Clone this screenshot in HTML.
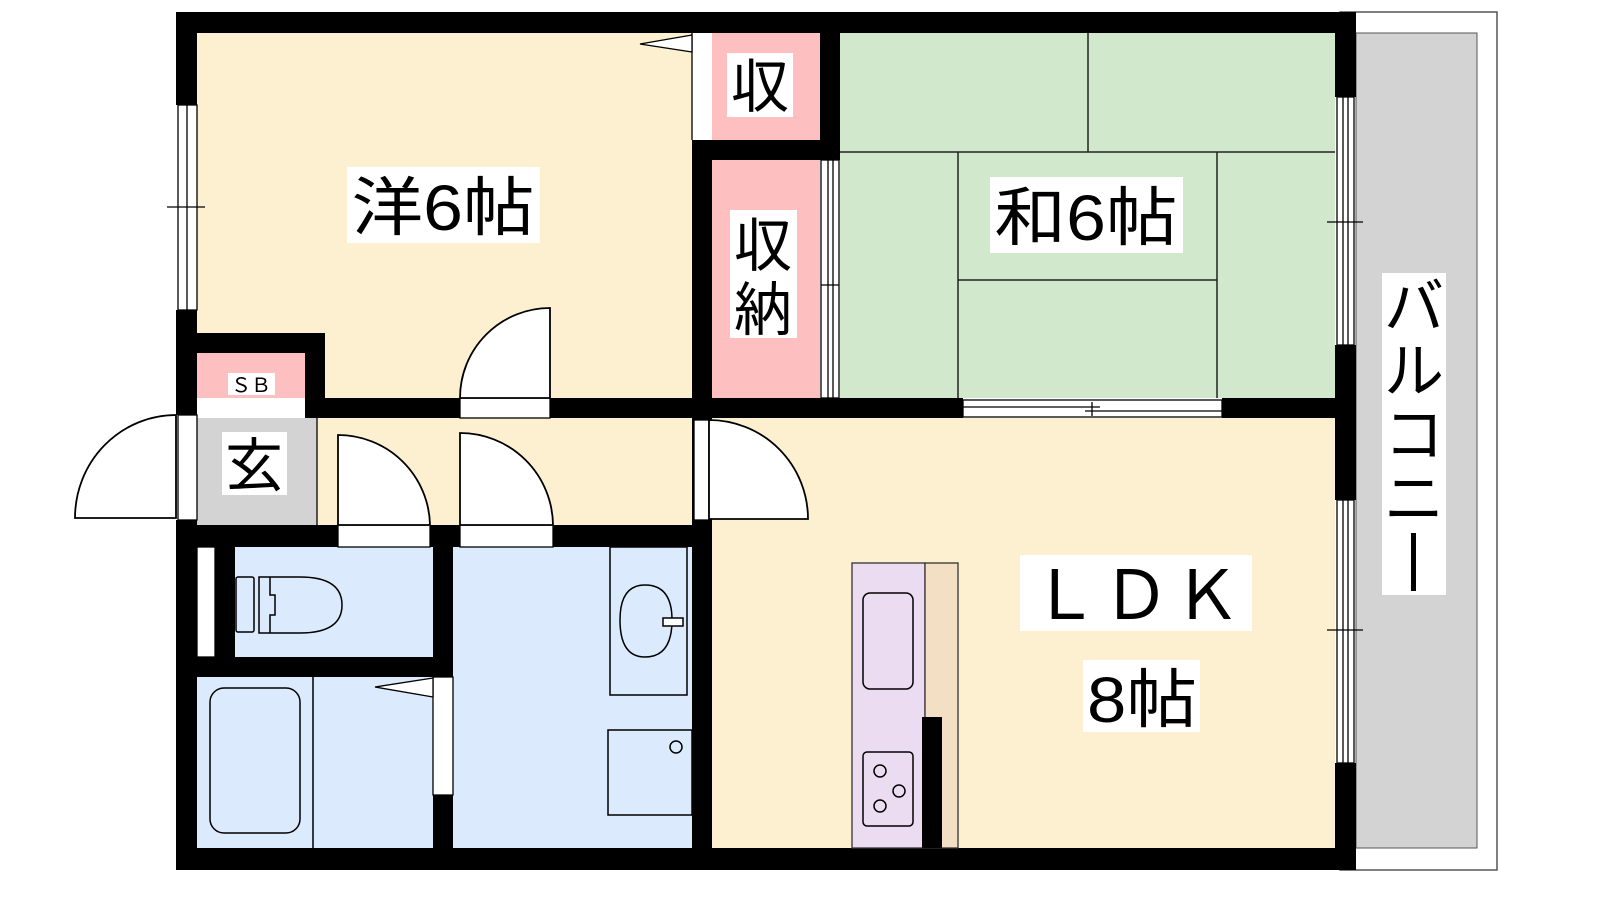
<!DOCTYPE html>
<html><head><meta charset="utf-8"><style>
html,body{margin:0;padding:0;background:#fff;width:1600px;height:900px;overflow:hidden}
svg{display:block}
text{font-family:"Liberation Sans","Noto Sans CJK JP",sans-serif;fill:#000}
</style></head><body>
<svg width="1600" height="900" viewBox="0 0 1600 900" xmlns="http://www.w3.org/2000/svg">
<rect x="1340" y="12" width="157" height="858" fill="#fff" stroke="#555" stroke-width="1.5"/>
<rect x="1356" y="33" width="121" height="815" fill="#d3d3d3" stroke="#555" stroke-width="1"/>
<rect x="197" y="33" width="495" height="365" fill="#fdf0d0"/>
<rect x="712" y="33" width="108" height="107" fill="#fdbfbf"/>
<rect x="712" y="160" width="108" height="238" fill="#fdbfbf"/>
<rect x="840" y="33" width="495" height="365" fill="#d2e8cc"/>
<rect x="197" y="353" width="108" height="45" fill="#fdbfbf"/>
<rect x="197" y="418" width="120" height="107" fill="#d3d3d3"/>
<rect x="317" y="418" width="375" height="107" fill="#fdf0d0"/>
<rect x="235" y="547" width="198" height="110" fill="#dbeafc"/>
<rect x="197" y="677" width="236" height="171" fill="#dbeafc"/>
<rect x="453" y="547" width="239" height="301" fill="#dbeafc"/>
<rect x="712" y="418" width="623" height="430" fill="#fdf0d0"/>
<g stroke="#222" stroke-width="1.5" fill="none">
<line x1="840" y1="152" x2="1335" y2="152"/>
<line x1="1088" y1="33" x2="1088" y2="152"/>
<line x1="958" y1="152" x2="958" y2="398"/>
<line x1="1217" y1="152" x2="1217" y2="398"/>
<line x1="958" y1="280" x2="1217" y2="280"/>
<line x1="317" y1="418" x2="317" y2="525"/>
</g>
<g fill="#000">
<rect x="176" y="12" width="1180" height="21"/>
<rect x="176" y="848" width="1180" height="22"/>
<rect x="176" y="12" width="21" height="93"/>
<rect x="176" y="310" width="21" height="105"/>
<rect x="176" y="520" width="21" height="350"/>
<rect x="197" y="333" width="128" height="20"/>
<rect x="305" y="333" width="20" height="85"/>
<rect x="305" y="398" width="155" height="20"/>
<rect x="550" y="398" width="413" height="20"/>
<rect x="1222" y="398" width="118" height="20"/>
<rect x="692" y="140" width="20" height="380"/>
<rect x="692" y="520" width="20" height="350"/>
<rect x="692" y="140" width="148" height="20"/>
<rect x="820" y="33" width="20" height="127"/>
<rect x="176" y="525" width="162" height="22"/>
<rect x="430" y="525" width="30" height="22"/>
<rect x="553" y="525" width="159" height="22"/>
<rect x="215" y="547" width="20" height="110"/>
<rect x="176" y="657" width="277" height="20"/>
<rect x="433" y="525" width="20" height="152"/>
<rect x="433" y="795" width="20" height="75"/>
<rect x="1335" y="12" width="21" height="85"/>
<rect x="1335" y="345" width="21" height="155"/>
<rect x="1335" y="763" width="21" height="107"/>
<rect x="922" y="717" width="20" height="131"/>
</g>
<g fill="#fff" stroke="#000" stroke-width="1.3">
<rect x="178" y="105" width="19" height="205"/>
<line x1="187" y1="105" x2="187" y2="310"/>
<line x1="167" y1="207" x2="205" y2="207"/>
<rect x="178" y="415" width="19" height="105"/>
<rect x="197" y="547" width="18" height="110"/>
<rect x="1337" y="97" width="17" height="248"/>
<line x1="1343" y1="97" x2="1343" y2="345"/><line x1="1348" y1="97" x2="1348" y2="345"/>
<line x1="1327" y1="222" x2="1363" y2="222"/>
<rect x="1337" y="500" width="17" height="263"/>
<line x1="1343" y1="500" x2="1343" y2="763"/><line x1="1348" y1="500" x2="1348" y2="763"/>
<line x1="1327" y1="630" x2="1363" y2="630"/>
<rect x="821" y="160" width="18" height="238"/>
<line x1="828" y1="160" x2="828" y2="398"/><line x1="833" y1="160" x2="833" y2="398"/>
<line x1="821" y1="285" x2="839" y2="285"/>
<rect x="963" y="400" width="259" height="17"/>
<line x1="963" y1="407" x2="1100" y2="407"/><line x1="1085" y1="411" x2="1222" y2="411"/>
<line x1="1092" y1="402" x2="1092" y2="416"/>
<rect x="692" y="33" width="20" height="107" stroke="none"/>
<line x1="692" y1="33" x2="692" y2="140"/>
<polygon points="692,35 640,44 692,52"/>
<rect x="433" y="677" width="20" height="118"/>
<polygon points="433,678 375,687 433,697"/>
<rect x="460" y="398" width="90" height="20"/>
<rect x="338" y="525" width="92" height="22"/>
<rect x="460" y="525" width="93" height="22"/>
<rect x="694" y="420" width="15" height="100"/>
</g>
<g fill="#fff" stroke="#000" stroke-width="1.8">
<path d="M550,398 L550,308 A90,90 0 0 0 460,398 Z"/>
<path d="M338,525 L338,435 A92,92 0 0 1 430,525 Z"/>
<path d="M460,525 L460,433 A93,93 0 0 1 553,525 Z"/>
<path d="M709,420 A99,99 0 0 1 808,519 L709,519 Z"/>
<path d="M176,415 A101,103 0 0 0 75,518 L176,518 Z"/>
</g>
<g fill="none" stroke="#000" stroke-width="1.5">
<rect x="236" y="577" width="18" height="55" rx="2"/>
<path d="M259,577 L300,577 Q342,577 342,605 Q342,633 300,633 L259,633 Z"/>
<path d="M270,577 V595 H275 V615 H270 V633"/>
<rect x="210" y="688" width="90" height="145" rx="14"/>
<line x1="313" y1="677" x2="313" y2="848"/>
<rect x="610" y="547" width="77" height="148"/>
<path d="M645,585 Q672,585 672,620 Q672,657 645,657 Q620,657 620,620 Q620,585 645,585 Z"/>
<rect x="663" y="618" width="20" height="8" fill="#fff"/>
<rect x="608" y="730" width="84" height="85"/>
<circle cx="676" cy="747" r="6"/>
</g>
<rect x="852" y="563" width="73" height="285" fill="#ecdcf2" stroke="#333" stroke-width="1.3"/>
<rect x="925" y="563" width="33" height="285" fill="#f2dfc4" stroke="#333" stroke-width="1.3"/>
<rect x="922" y="717" width="20" height="131" fill="#000"/>
<g fill="none" stroke="#000" stroke-width="1.5">
<rect x="863" y="593" width="50" height="96" rx="7"/>
<rect x="863" y="752" width="50" height="74" rx="4"/>
<circle cx="880" cy="771" r="6"/><circle cx="899" cy="791" r="6"/><circle cx="880" cy="806" r="6"/>
</g>
<g fill="#fff">
<rect x="347" y="167" width="193" height="76"/>
<rect x="990" y="177" width="193" height="76"/>
<rect x="1020" y="555" width="232" height="76"/>
<rect x="1083" y="660" width="117" height="72"/>
<rect x="727" y="53" width="66" height="64"/>
<rect x="730" y="210" width="67" height="128"/>
<rect x="228" y="373" width="47" height="22"/>
<rect x="222" y="432" width="65" height="63"/>
<rect x="1382" y="273" width="64" height="322"/>
</g>
<text x="443" y="230" font-size="64" text-anchor="middle" textLength="183" lengthAdjust="spacingAndGlyphs">洋6帖</text>
<text x="1086" y="240" font-size="64" text-anchor="middle" textLength="183" lengthAdjust="spacingAndGlyphs">和6帖</text>
<text x="1136" y="619" font-size="68" text-anchor="middle" textLength="210" lengthAdjust="spacing">ＬＤＫ</text>
<text x="1142" y="722" font-size="64" text-anchor="middle" textLength="110" lengthAdjust="spacingAndGlyphs">8帖</text>
<text x="760" y="107" font-size="58" text-anchor="middle">収</text>
<text x="763" y="266" font-size="58" text-anchor="middle">収</text>
<text x="763" y="330" font-size="58" text-anchor="middle">納</text>
<text x="251" y="392" font-size="20" text-anchor="middle">ＳＢ</text>
<text x="254" y="486" font-size="58" text-anchor="middle">玄</text>
<g font-size="60" text-anchor="middle">
<text x="1414" y="328">バ</text>
<text x="1414" y="392">ル</text>
<text x="1414" y="456">コ</text>
<text x="1414" y="520">ニ</text>
</g>
<rect x="1411" y="533" width="5" height="58" fill="#000"/>
</svg>
</body></html>
